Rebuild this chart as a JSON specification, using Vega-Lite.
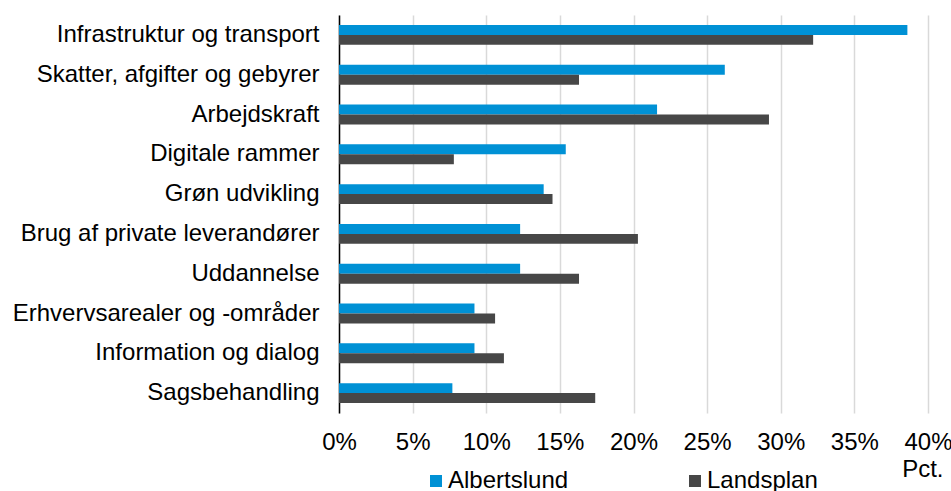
{
  "$schema": "https://vega.github.io/schema/vega-lite/v6.json",
  "width": 589,
  "height": 398,
  "autosize": "none",
  "padding": {"left": 339, "top": 15, "right": 23, "bottom": 78},
  "background": "white",
  "config": {
    "font": "Liberation Sans",
    "view": {"stroke": null}
  },
  "data": {
    "values": [
      {"cat": "Infrastruktur og transport", "series": "Albertslund", "value": 38.6},
      {"cat": "Infrastruktur og transport", "series": "Landsplan", "value": 32.2},
      {"cat": "Skatter, afgifter og gebyrer", "series": "Albertslund", "value": 26.2},
      {"cat": "Skatter, afgifter og gebyrer", "series": "Landsplan", "value": 16.3},
      {"cat": "Arbejdskraft", "series": "Albertslund", "value": 21.6},
      {"cat": "Arbejdskraft", "series": "Landsplan", "value": 29.2},
      {"cat": "Digitale rammer", "series": "Albertslund", "value": 15.4},
      {"cat": "Digitale rammer", "series": "Landsplan", "value": 7.8},
      {"cat": "Grøn udvikling", "series": "Albertslund", "value": 13.9},
      {"cat": "Grøn udvikling", "series": "Landsplan", "value": 14.5},
      {"cat": "Brug af private leverandører", "series": "Albertslund", "value": 12.3},
      {"cat": "Brug af private leverandører", "series": "Landsplan", "value": 20.3},
      {"cat": "Uddannelse", "series": "Albertslund", "value": 12.3},
      {"cat": "Uddannelse", "series": "Landsplan", "value": 16.3},
      {"cat": "Erhvervsarealer og -områder", "series": "Albertslund", "value": 9.2},
      {"cat": "Erhvervsarealer og -områder", "series": "Landsplan", "value": 10.6},
      {"cat": "Information og dialog", "series": "Albertslund", "value": 9.2},
      {"cat": "Information og dialog", "series": "Landsplan", "value": 11.2},
      {"cat": "Sagsbehandling", "series": "Albertslund", "value": 7.7},
      {"cat": "Sagsbehandling", "series": "Landsplan", "value": 17.4}
    ]
  },
  "mark": {"type": "bar"},
  "encoding": {
    "y": {
      "field": "cat",
      "type": "nominal",
      "sort": null,
      "scale": {"paddingInner": 0.5, "paddingOuter": 0.25},
      "axis": {
        "title": null,
        "domainColor": "#000000",
        "domainWidth": 1.5,
        "ticks": false,
        "labelFontSize": 24,
        "labelColor": "#000000",
        "labelPadding": 20,
        "labelLimit": 340,
        "grid": false
      }
    },
    "yOffset": {"field": "series", "type": "nominal", "sort": ["Albertslund", "Landsplan"]},
    "x": {
      "field": "value",
      "type": "quantitative",
      "scale": {"domain": [0, 40], "nice": false},
      "axis": {
        "values": [0, 5, 10, 15, 20, 25, 30, 35, 40],
        "labelExpr": "datum.value + '%'",
        "domain": false,
        "ticks": false,
        "grid": true,
        "gridColor": "#d9d9d9",
        "gridWidth": 1.5,
        "labelFontSize": 24,
        "labelColor": "#000000",
        "labelPadding": 17,
        "labelFlush": false,
        "title": "Pct.",
        "titleFontSize": 24,
        "titleFontWeight": "normal",
        "titleColor": "#000000",
        "titleX": 604,
        "titleY": 56,
        "titleAlign": "right",
        "titleBaseline": "middle",
        "titleAnchor": null
      }
    },
    "color": {
      "field": "series",
      "type": "nominal",
      "scale": {"domain": ["Albertslund", "Landsplan"], "range": ["#0091D5", "#474747"]},
      "legend": {
        "title": null,
        "orient": "none",
        "legendX": 85,
        "legendY": 454,
        "direction": "horizontal",
        "symbolType": "square",
        "symbolSize": 144,
        "symbolStrokeWidth": 0,
        "labelFontSize": 24,
        "labelColor": "#000000",
        "labelLimit": 300,
        "columnPadding": 114,
        "symbolOffset": 0,
        "labelOffset": 0
      }
    }
  }
}
